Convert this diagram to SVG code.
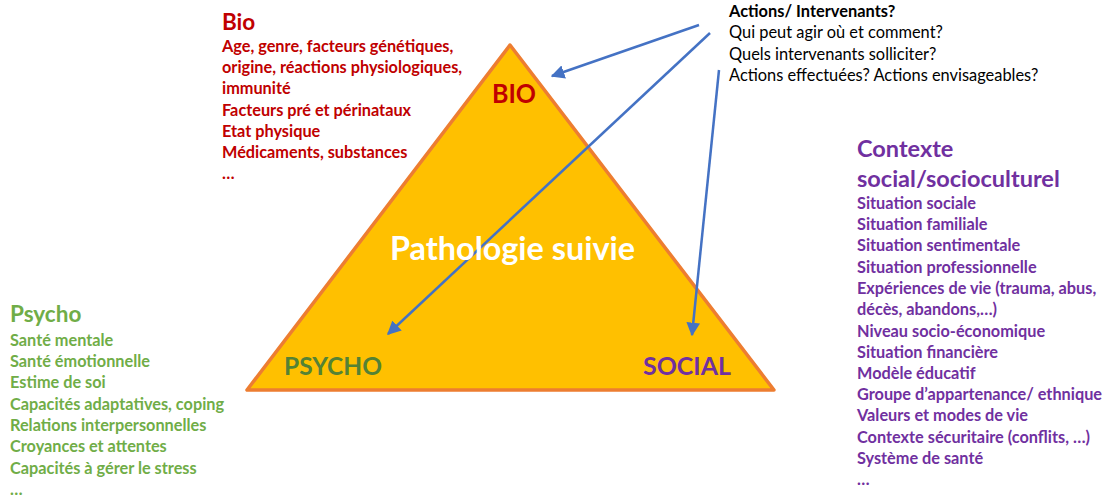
<svg xmlns="http://www.w3.org/2000/svg" width="1114" height="497" viewBox="0 0 1114 497">
  <defs>
    <marker id="arrow" viewBox="0 0 10 10" refX="9" refY="5" markerWidth="5.5" markerHeight="5.5" orient="auto" markerUnits="strokeWidth">
      <path d="M0,0 L10,5 L0,10 z" fill="#4472C4"/>
    </marker>
    <style>
      text { font-family: Lato, "Open Sans", "Liberation Sans", sans-serif; }
      .b { font-weight: bold; }
      .red { fill: #C00000; }
      .green { fill: #70AD47; }
      .dgreen { fill: #548235; }
      .purple { fill: #7030A0; }
      .black { fill: #000000; }
      .item { font-size: 16.3px; font-weight: bold; }
      .head { font-size: 22.5px; font-weight: bold; }
      .q { font-size: 16.4px; }
      .conn { stroke: #4472C4; stroke-width: 2.5; fill: none; marker-end: url(#arrow); }
    </style>
  </defs>
  <rect width="1114" height="497" fill="#FFFFFF"/>

  <!-- central triangle -->
  <g id="triangle">
    <polygon points="510,45 247,390 774,390" fill="#FFC000" stroke="#ED7D31" stroke-width="3.5" stroke-linejoin="round"/>
  </g>

  <!-- arrows from the action questions -->
  <g id="connectors">
    <line class="conn" x1="699" y1="25" x2="552" y2="76"/>
    <line class="conn" x1="710" y1="33" x2="388" y2="334"/>
    <line class="conn" x1="719" y1="70" x2="692" y2="335"/>
  </g>

  <g id="label-center">
    <text x="390" y="260" font-size="32" class="b" fill="#FFFFFF" textLength="245" lengthAdjust="spacingAndGlyphs">Pathologie suivie</text>
  </g>
  <g id="label-bio">
    <text x="492" y="103" font-size="26" class="b red" textLength="44" lengthAdjust="spacingAndGlyphs">BIO</text>
  </g>
  <g id="label-psycho">
    <text x="284" y="375" font-size="25" class="b dgreen" textLength="98" lengthAdjust="spacingAndGlyphs">PSYCHO</text>
  </g>
  <g id="label-social">
    <text x="643" y="375" font-size="25" class="b purple" textLength="88" lengthAdjust="spacingAndGlyphs">SOCIAL</text>
  </g>

  <!-- biological factors -->
  <g id="bio-details" class="red">
    <text x="222" y="30" class="head">Bio</text>
    <text x="222" y="52" class="item">Age, genre, facteurs génétiques,</text>
    <text x="222" y="73" class="item">origine, réactions physiologiques,</text>
    <text x="222" y="94" class="item">immunité</text>
    <text x="222" y="116" class="item">Facteurs pré et périnataux</text>
    <text x="222" y="137" class="item">Etat physique</text>
    <text x="222" y="158" class="item">Médicaments, substances</text>
    <text x="222" y="179" class="item">…</text>
  </g>

  <!-- action questions -->
  <g id="actions" class="black">
    <text x="729" y="17" class="q b">Actions/ Intervenants?</text>
    <text x="729" y="38" class="q">Qui peut agir où et comment?</text>
    <text x="729" y="60" class="q">Quels intervenants solliciter?</text>
    <text x="729" y="81" class="q">Actions effectuées? Actions envisageables?</text>
  </g>

  <!-- social context -->
  <g id="social-details" class="purple">
    <text x="857" y="157" font-size="23.5" class="b">Contexte</text>
    <text x="857" y="187" font-size="23.5" class="b">social/socioculturel</text>
    <text x="857" y="209" class="item">Situation sociale</text>
    <text x="857" y="230" class="item">Situation familiale</text>
    <text x="857" y="251" class="item">Situation sentimentale</text>
    <text x="857" y="273" class="item">Situation professionnelle</text>
    <text x="857" y="294" class="item">Expériences de vie (trauma, abus,</text>
    <text x="857" y="315" class="item">décès, abandons,…)</text>
    <text x="857" y="337" class="item">Niveau socio-économique</text>
    <text x="857" y="358" class="item">Situation financière</text>
    <text x="857" y="379" class="item">Modèle éducatif</text>
    <text x="857" y="400" class="item">Groupe d’appartenance/ ethnique</text>
    <text x="857" y="421" class="item">Valeurs et modes de vie</text>
    <text x="857" y="443" class="item">Contexte sécuritaire (conflits, …)</text>
    <text x="857" y="464" class="item">Système de santé</text>
    <text x="857" y="485" class="item">…</text>
  </g>

  <!-- psychological factors -->
  <g id="psycho-details" class="green">
    <text x="10" y="322" class="head">Psycho</text>
    <text x="10" y="346" class="item">Santé mentale</text>
    <text x="10" y="367" class="item">Santé émotionnelle</text>
    <text x="10" y="388" class="item">Estime de soi</text>
    <text x="10" y="410" class="item">Capacités adaptatives, coping</text>
    <text x="10" y="431" class="item">Relations interpersonnelles</text>
    <text x="10" y="452" class="item">Croyances et attentes</text>
    <text x="10" y="474" class="item">Capacités à gérer le stress</text>
    <text x="10" y="495" class="item">…</text>
  </g>
</svg>
